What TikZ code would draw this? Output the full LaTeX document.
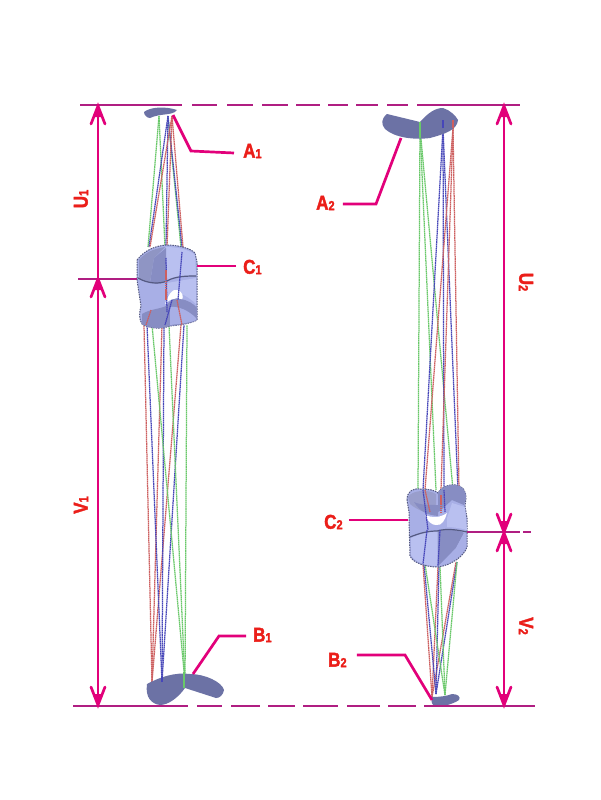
\documentclass[tikz,border=0pt]{standalone}
\usepackage{fontspec}
\setmainfont{Liberation Sans}[BoldFeatures={FakeBold=2}]
\definecolor{mag}{RGB}{226,0,122}
\definecolor{dim}{RGB}{176,30,130}
\definecolor{lab}{RGB}{235,30,25}
\definecolor{mirrorc}{RGB}{108,114,165}
\definecolor{lensL}{RGB}{168,175,230}
\definecolor{lensP}{RGB}{185,192,240}
\definecolor{lensM}{RGB}{135,141,195}
\definecolor{lensE}{RGB}{85,90,130}
\definecolor{rr}{RGB}{205,95,95}
\definecolor{rg}{RGB}{105,200,105}
\definecolor{rb}{RGB}{70,70,185}
\tikzset{
 x=1pt,y=-1pt,
 lead/.style={mag,line width=2.7pt},
 dimline/.style={mag,line width=2.7pt},
 refline/.style={dim,line width=2pt},
 ray/.style={line width=1.25pt,dash pattern=on 1.6pt off 0.5pt},
 mirror/.style={fill=mirrorc,draw=none},
 lab/.style={text=lab,font=\bfseries\fontsize{20}{20}\selectfont,inner sep=0pt},
 open/.style={mag,line width=2.7pt,line cap=round},
 lensedge/.style={draw=lensE,line width=1pt,dash pattern=on 1.5pt off 1pt},
}
\newcommand{\Lbl}[2]{\scalebox{0.85}[1]{#1\raisebox{-0.5pt}{\fontsize{13}{13}\selectfont #2}}}
\newcommand{\ArrUp}[2]{\draw[open] (#1-7,#2+18) -- (#1,#2) -- (#1+7,#2+18);\fill[mag] (#1,#2) -- (#1+3.5,#2+11) -- (#1-3.5,#2+11) -- cycle;}
\newcommand{\ArrDn}[2]{\draw[open] (#1-7,#2-18) -- (#1,#2) -- (#1+7,#2-18);\fill[mag] (#1,#2) -- (#1+3.5,#2-11) -- (#1-3.5,#2-11) -- cycle;}
\begin{document}
\begin{tikzpicture}
\useasboundingbox[fill=white] (0,0) rectangle (600,800);
% rays left
\foreach \c/\x/\y/\u/\v in {
 rg/159/116/148/247, rg/159/116/165/247, rg/168/118/181/247,
 rb/168/116/149/247, rb/168/116/166/247, rb/168/116/182/247,
 rr/172/116/150/247, rr/172/116/167/247, rr/172/116/183/247}{
 \draw[\c,ray] (\x,\y) -- (\u,\v);}
\foreach \c/\x/\y/\u/\v in {
 rr/152/682/144/325, rr/152/682/162/325, rr/152/682/181/325,
 rb/162/682/147/325, rb/162/682/164/325, rb/162/682/184/325,
 rg/185/682/152/325, rg/185/682/169/325, rg/185/682/187/325}{
 \draw[\c,ray] (\x,\y) -- (\u,\v);}
% rays right
\foreach \c/\x/\y/\u/\v in {
 rg/420/128/418/490, rg/420/128/436/490, rg/420/128/453/490,
 rb/443/128/423/490, rb/443/128/444/490, rb/443/128/458/490,
 rr/453/128/425/490, rr/453/128/441/490, rr/453/128/459/490}{
 \draw[\c,ray] (\x,\y) -- (\u,\v);}
\foreach \c/\x/\y/\u/\v in {
 rr/432/697/423/564, rr/432/697/438/566, rr/432/697/456/562,
 rb/436/694/424/564, rb/436/694/439/566, rb/436/694/457/562,
 rg/445/695/425/564, rg/445/695/440/566, rg/445/695/457/562}{
 \draw[\c,ray] (\x,\y) -- (\u,\v);}
% mirrors
\fill[mirror] (144,112) .. controls (150,107) and (165,106) .. (177,110) .. controls (173,116) and (160,113) .. (150,118) .. controls (147,118) and (144,115) .. (144,112) -- cycle;
\fill[mirror] (387,114) -- (420,122) .. controls (428,113) and (435,108) .. (443,108) .. controls (450,110) and (456,116) .. (458,120) .. controls (457,130) and (445,134) .. (430,138) .. controls (415,140) and (395,138) .. (385,129) .. controls (381,124) and (381,119) .. (387,114) -- cycle;
\fill[mirror] (147,684) .. controls (160,677) and (175,672) .. (190,674) .. controls (205,674) and (222,682) .. (224,690) .. controls (223,695) and (220,698) .. (216,698) -- (185,688) .. controls (178,698) and (168,705) .. (160,705) .. controls (152,704) and (145,698) .. (147,684) -- cycle;
\fill[mirror] (432,697) .. controls (440,697) and (447,696) .. (452,694) .. controls (458,694) and (461,697) .. (459,700) .. controls (455,703) and (450,704) .. (445,706) -- (434,706) .. controls (431,703) and (431,700) .. (432,697) -- cycle;
\draw[rg,line width=1.6pt] (420,122) -- (420,138);
\draw[rg,line width=1.4pt] (184,672) -- (184,688);
\draw[rb,line width=1.2pt] (162,682) -- (162,676);
\draw[rr,line width=1.2pt] (453,128) -- (453,120);
\draw[rb,line width=1.2pt] (443,128) -- (443,120);
% lens C1 body
\path[fill=lensL,lensedge] (137,260) .. controls (145,250) and (155,246) .. (166,245) .. controls (178,245) and (190,248) .. (195,253) -- (197,262) -- (197,303) -- (197,320) .. controls (190,324) and (178,325) .. (170,326) .. controls (162,329) and (150,329) .. (142,324) .. controls (139,320) and (139,312) .. (141,306) -- (137,280) -- cycle;
% top rim and slanted facet
\fill[lensP] (166,247) .. controls (178,247) and (190,250) .. (195,255) -- (196,276) .. controls (185,275) and (175,276) .. (166,282) -- cycle;
\fill[lensM] (154,258) -- (166,248) -- (166,282) .. controls (160,284) and (155,284) .. (150,283) -- cycle;
\fill[lensL!85!black] (139,260) .. controls (145,253) and (152,249) .. (165,247) -- (154,258) -- (150,282) .. controls (145,282) and (140,280) .. (139,277) -- cycle;
% lower faces
\fill[lensL] (142,283) .. controls (150,287) and (160,287) .. (166,284) -- (166,297) .. controls (158,300) and (152,306) .. (150,311) -- (142,306) -- cycle;
\fill[lensP] (167,283) -- (196,278) -- (196,304) .. controls (190,298) and (180,292) .. (175,292) .. controls (172,292) and (169,294) .. (167,297) -- cycle;
% hole
\fill[white] (165,304) .. controls (168,296) and (172,288) .. (178,290) .. controls (182,292) and (184,296) .. (182,300) .. controls (175,297) and (170,299) .. (165,304) -- cycle;
% lower disc
\fill[lensM] (142,314) .. controls (150,309) and (160,309) .. (166,306) .. controls (170,300) and (175,297) .. (180,299) .. controls (188,300) and (194,304) .. (197,308) -- (197,320) .. controls (190,324) and (178,325) .. (170,326) .. controls (162,329) and (150,329) .. (142,324) -- cycle;
\fill[lensL] (170,307) .. controls (178,306) and (188,310) .. (196,318) -- (196,320) .. controls (190,323) and (178,324) .. (170,325) -- cycle;
\draw[lensE,line width=1.2pt] (138,278) .. controls (148,284) and (160,284) .. (167,281) .. controls (175,276) and (188,276) .. (196,276);
\foreach \c/\x/\y/\u/\v in {rb/182/252/178/300, rb/166/258/167/312, rr/166/270/166/300, rr/177/300/182/325, rb/172/300/165/325, rr/151/310/146/325}{\draw[\c,ray] (\x,\y) -- (\u,\v);}
% lens C2 body
\path[fill=lensL,lensedge] (407,500) .. controls (407,492) and (412,488) .. (420,489) .. controls (428,489) and (435,490) .. (438,493) .. controls (442,486) and (450,484) .. (456,485) .. controls (462,486) and (466,490) .. (466,498) -- (465,506) -- (467,518) -- (467,547) .. controls (464,556) and (452,565) .. (438,567) .. controls (426,567) and (413,563) .. (410,556) -- (409,520) -- (409,512) -- cycle;
% upper disc
\fill[lensM!85!white] (408,497) .. controls (412,490) and (428,489) .. (436,494) -- (436,515) .. controls (428,514) and (417,510) .. (410,504) -- cycle;
\fill[lensM] (414,502) .. controls (420,512) and (428,515) .. (438,516) -- (438,505) .. controls (430,505) and (420,505) .. (414,502) -- cycle;
\fill[lensM] (438,493) .. controls (442,486) and (450,484) .. (456,485) .. controls (462,486) and (466,490) .. (466,498) -- (464,505) -- (452,500) -- (441,510) -- (438,512) -- cycle;
\fill[lensP] (447,518) -- (452,503) -- (465,507) -- (467,530) .. controls (460,528) and (452,527) .. (447,527) -- cycle;
% hole
\fill[white] (425,515) .. controls (432,518) and (440,518) .. (447,513) .. controls (445,520) and (442,526) .. (436,525) .. controls (432,525) and (428,522) .. (425,515) -- cycle;
% lower faces
\fill[lensL] (410,514) .. controls (415,518) and (420,522) .. (425,528) -- (426,531) .. controls (420,532) and (414,534) .. (410,536) -- cycle;
\fill[lensP] (411,538) .. controls (420,534) and (428,532) .. (437,531) -- (437,566) .. controls (426,566) and (415,562) .. (411,555) -- cycle;
\fill[lensM] (438,531) .. controls (447,528) and (458,530) .. (464,533) -- (456,548) -- (438,566) -- cycle;
\fill[lensL] (464,533) -- (466,534) -- (466,547) .. controls (462,555) and (452,562) .. (439,566) -- (456,548) -- cycle;
\draw[lensE,line width=1.2pt] (410,537) .. controls (420,533) and (428,531) .. (437,531) .. controls (447,528) and (458,530) .. (467,532);
\foreach \c/\x/\y/\u/\v in {rb/423/490/428/530, rr/425/490/430/512, rb/427/530/423/564, rb/440/530/438/566, rr/441/495/441/512, rb/444/490/445/512}{\draw[\c,ray] (\x,\y) -- (\u,\v);}
% reference lines
\draw[refline] (80,105) -- (182,105);
\foreach \p/\q in {192/217,227/253,262/288,296/320,328/348,356/378,387/408}{\draw[refline] (\p,105) -- (\q,105);}
\draw[refline] (417,105) -- (520,105);
\draw[refline] (73,706) -- (188,706);
\foreach \p/\q in {197/222,231/260,268/295,303/338,347/380,388/416}{\draw[refline] (\p,706) -- (\q,706);}
\draw[refline] (424,706) -- (535,706);
\draw[refline] (78,279) -- (137,279);
\draw[refline] (467,532) -- (520,532);
\draw[refline] (523,532) -- (531,532);
% dimension lines
\coordinate (u1a) at (98,106); \coordinate (u1b) at (98,277);
\coordinate (v1a) at (98,279); \coordinate (v1b) at (98,705);
\coordinate (u2a) at (504,106); \coordinate (u2b) at (504,531);
\coordinate (v2a) at (504,533); \coordinate (v2b) at (504,705);
\draw[dimline] (u1a) -- (u1b);
\draw[dimline] (v1a) -- (v1b);
\draw[dimline] (u2a) -- (u2b);
\draw[dimline] (v2a) -- (v2b);
\ArrUp{98}{106}\ArrUp{98}{279}\ArrDn{98}{705}
\ArrUp{504}{106}\ArrDn{504}{532}\ArrUp{504}{533}\ArrDn{504}{705}
% leaders & labels
\node[lab,anchor=west] (A1) at (243,151) {\Lbl{A}{1}};
\node[lab,anchor=west] (C1) at (243,267) {\Lbl{C}{1}};
\node[lab,anchor=west] (B1) at (253,635) {\Lbl{B}{1}};
\node[lab,anchor=west] (A2) at (316,203) {\Lbl{A}{2}};
\node[lab,anchor=west] (C2) at (324,522) {\Lbl{C}{2}};
\node[lab,anchor=west] (B2) at (328,660) {\Lbl{B}{2}};
\node[lab,rotate=90] (U1) at (81,199) {\Lbl{U}{1}};
\node[lab,rotate=90] (V1) at (81,505) {\Lbl{V}{1}};
\node[lab,rotate=-90] (U2) at (526,282) {\Lbl{U}{2}};
\node[lab,rotate=-90] (V2) at (526,626) {\Lbl{V}{2}};
\coordinate (a1t) at (173,115);
\coordinate (c1t) at (197,266);
\coordinate (b1t) at (193,674);
\coordinate (a2t) at (401,138);
\coordinate (c2t) at (408,520);
\coordinate (b2t) at (432,700);
\draw[lead] (A1.west) ++(-9,2) -- (191,151) -- (a1t);
\draw[lead] (C1.west) ++(-7,-1) -- (c1t);
\draw[lead] (B1.west) ++(-7,1) -- (219,636) -- (b1t);
\draw[lead] (A2.east) ++(8,1) -- (376,204) -- (a2t);
\draw[lead] (C2.east) ++(6,-2) -- (c2t);
\draw[lead] (B2.east) ++(10,-5) -- (405,655) -- (b2t);
\end{tikzpicture}
\end{document}
